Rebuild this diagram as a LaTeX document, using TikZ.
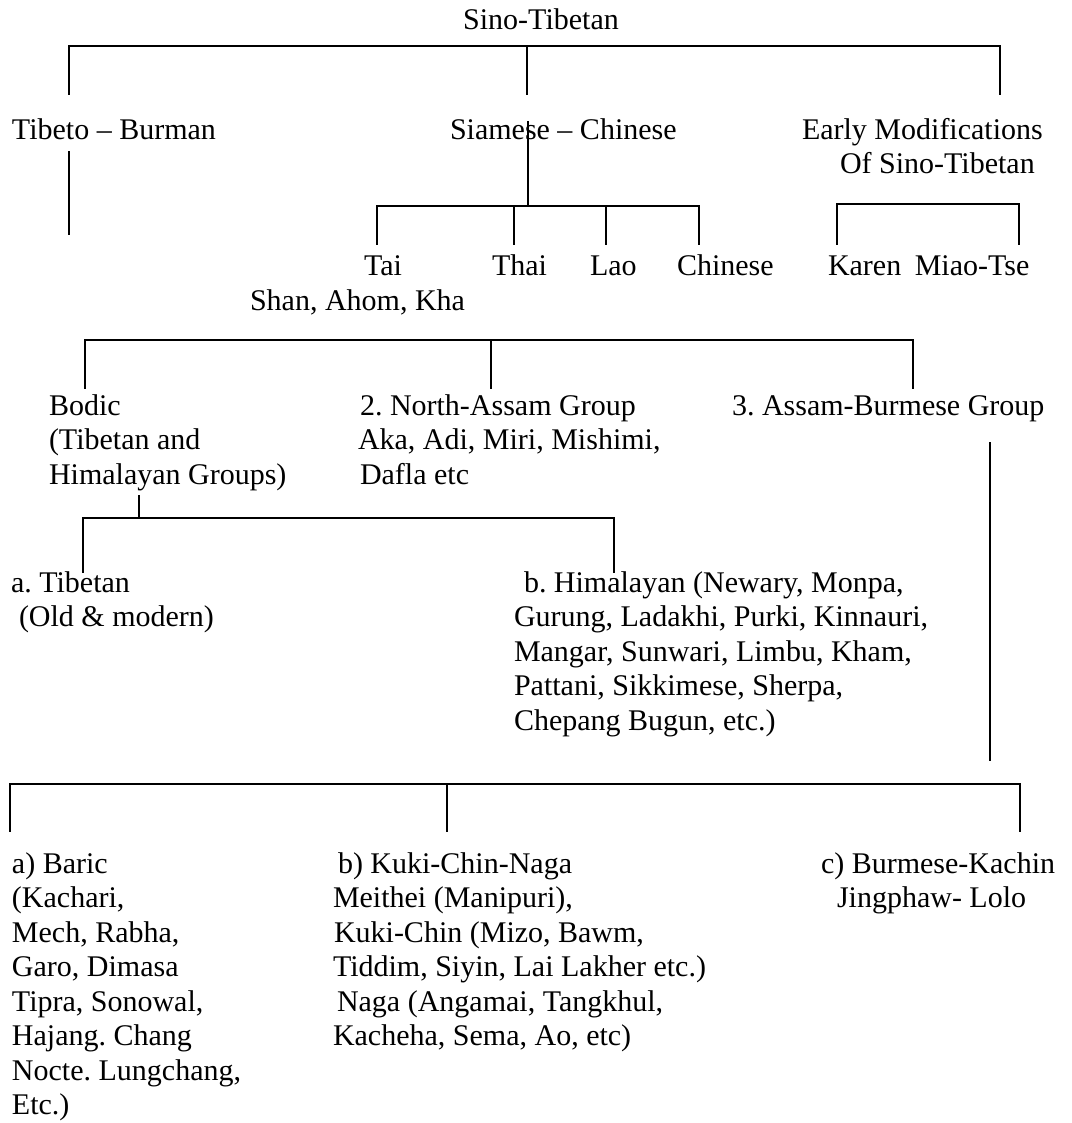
\documentclass[tikz,border=0pt]{standalone}
\usepackage{fontspec}
\setmainfont{Liberation Serif}
\frenchspacing
\newcommand{\blk}[1]{\begin{tabular}[t]{@{}l@{}}#1\end{tabular}}
\begin{document}
\begin{tikzpicture}[x=1pt,y=-1pt,
  lbl/.style={inner sep=0pt,outer sep=0pt,anchor=base west,font=\fontsize{30}{34.5}\selectfont},
  ln/.style={line width=2.2pt,line cap=rect},
  thin/.style={line width=1.3pt}]
\useasboundingbox[fill=white] (0,0) rectangle (1071,1123);

% ---- texts ----
\node[lbl,anchor=base] (st) at (541,30) {Sino-Tibetan};
\node[lbl] (tb) at (12,140) {Tibeto -- Burman};
\node[lbl] (sc) at (450,140) {Siamese -- Chinese};
\node[lbl] (em) at (802,140) {Early Modifications};
\node[lbl] (em2) at (840,174) {Of Sino-Tibetan};
\node[lbl] (tai) at (364,275) {Tai};
\node[lbl] (shan) at (250,310) {Shan, Ahom, Kha};
\node[lbl] (thai) at (492,275) {Thai};
\node[lbl] (lao) at (590,275) {Lao};
\node[lbl] (chn) at (677,275) {Chinese};
\node[lbl] (kar) at (828,275) {Karen\hspace{0.45em}Miao-Tse};
\node[lbl] (bod) at (49,415) {\blk{Bodic\\(Tibetan and\\Himalayan Groups)}};
\node[lbl] (na) at (360,415) {\blk{2. North-Assam Group\\\hspace*{-2pt}Aka, Adi, Miri, Mishimi,\\Dafla etc}};
\node[lbl] (ab) at (732,415) {3. Assam-Burmese Group};
\node[lbl] (tib) at (11,592) {\blk{a. Tibetan\\\hspace*{8pt}(Old \& modern)}};
\node[lbl] (him) at (514,592) {\blk{\hspace*{10pt}b. Himalayan (Newary, Monpa,\\Gurung, Ladakhi, Purki, Kinnauri,\\Mangar, Sunwari, Limbu, Kham,\\Pattani, Sikkimese, Sherpa,\\Chepang Bugun, etc.)}};
\node[lbl] (bar) at (12,873) {\blk{a) Baric\\(Kachari,\\Mech, Rabha,\\Garo, Dimasa\\Tipra, Sonowal,\\Hajang. Chang\\Nocte. Lungchang,\\Etc.)}};
\node[lbl] (kuk) at (333,873) {\blk{\hspace*{5pt}b) Kuki-Chin-Naga\\Meithei (Manipuri),\\\hspace*{1pt}Kuki-Chin (Mizo, Bawm,\\Tiddim, Siyin, Lai Lakher etc.)\\\hspace*{4pt}Naga (Angamai, Tangkhul,\\Kacheha, Sema, Ao, etc)}};
\node[lbl] (bk) at (821,873) {\blk{c) Burmese-Kachin\\\hspace*{16pt}Jingphaw- Lolo}};

% ---- junction coordinates ----
\coordinate (a0) at (69,46);   \coordinate (a1) at (527,46);  \coordinate (a2) at (1000,46);
\coordinate (a0d) at (69,94);  \coordinate (a1d) at (527,94); \coordinate (a2d) at (1000,94);
\coordinate (tbu) at (69,152); \coordinate (tbd) at (69,234);
\coordinate (scu) at (528,121); \coordinate (scd) at (528,206);
\coordinate (b0) at (377,206); \coordinate (b1) at (514,206); \coordinate (b2) at (606,206); \coordinate (b3) at (699,206);
\coordinate (b0d) at (377,244); \coordinate (b1d) at (514,244); \coordinate (b2d) at (606,244); \coordinate (b3d) at (699,244);
\coordinate (e0) at (837,204); \coordinate (e1) at (1019,204);
\coordinate (e0d) at (837,244); \coordinate (e1d) at (1019,244);
\coordinate (c0) at (85,340); \coordinate (c1) at (491,340); \coordinate (c2) at (913,340);
\coordinate (c0d) at (85,388); \coordinate (c1d) at (491,388); \coordinate (c2d) at (913,388);
\coordinate (abu) at (990,443); \coordinate (abd) at (990,760);
\coordinate (bdu) at (139,495); \coordinate (bdd) at (139,518);
\coordinate (d0) at (83,518); \coordinate (d1) at (614,518);
\coordinate (d0d) at (83,572); \coordinate (d1d) at (614,572);
\coordinate (f0) at (10,784); \coordinate (f1) at (447,784); \coordinate (f2) at (1020,784);
\coordinate (f0d) at (10,831); \coordinate (f1d) at (447,831); \coordinate (f2d) at (1020,831);

% ---- connectors ----
\draw[ln] (a0d) -- (a0) -- (a2) -- (a2d);
\draw[ln] (a1) -- (a1d);
\draw[ln] (tbu) -- (tbd);
\draw[line width=1.7pt] (scu) -- (scd);
\draw[ln] (b0d) -- (b0) -- (b3) -- (b3d);
\draw[ln] (b1) -- (b1d);
\draw[ln] (b2) -- (b2d);
\draw[ln] (e0d) -- (e0) -- (e1) -- (e1d);
\draw[ln] (c0d) -- (c0) -- (c2) -- (c2d);
\draw[ln] (c1) -- (c1d);
\draw[ln] (abu) -- (abd);
\draw[thin] (bdu) -- (bdd);
\draw[ln] (d0d) -- (d0) -- (d1) -- (d1d);
\draw[ln] (f0d) -- (f0) -- (f2) -- (f2d);
\draw[ln] (f1) -- (f1d);
\end{tikzpicture}
\end{document}
